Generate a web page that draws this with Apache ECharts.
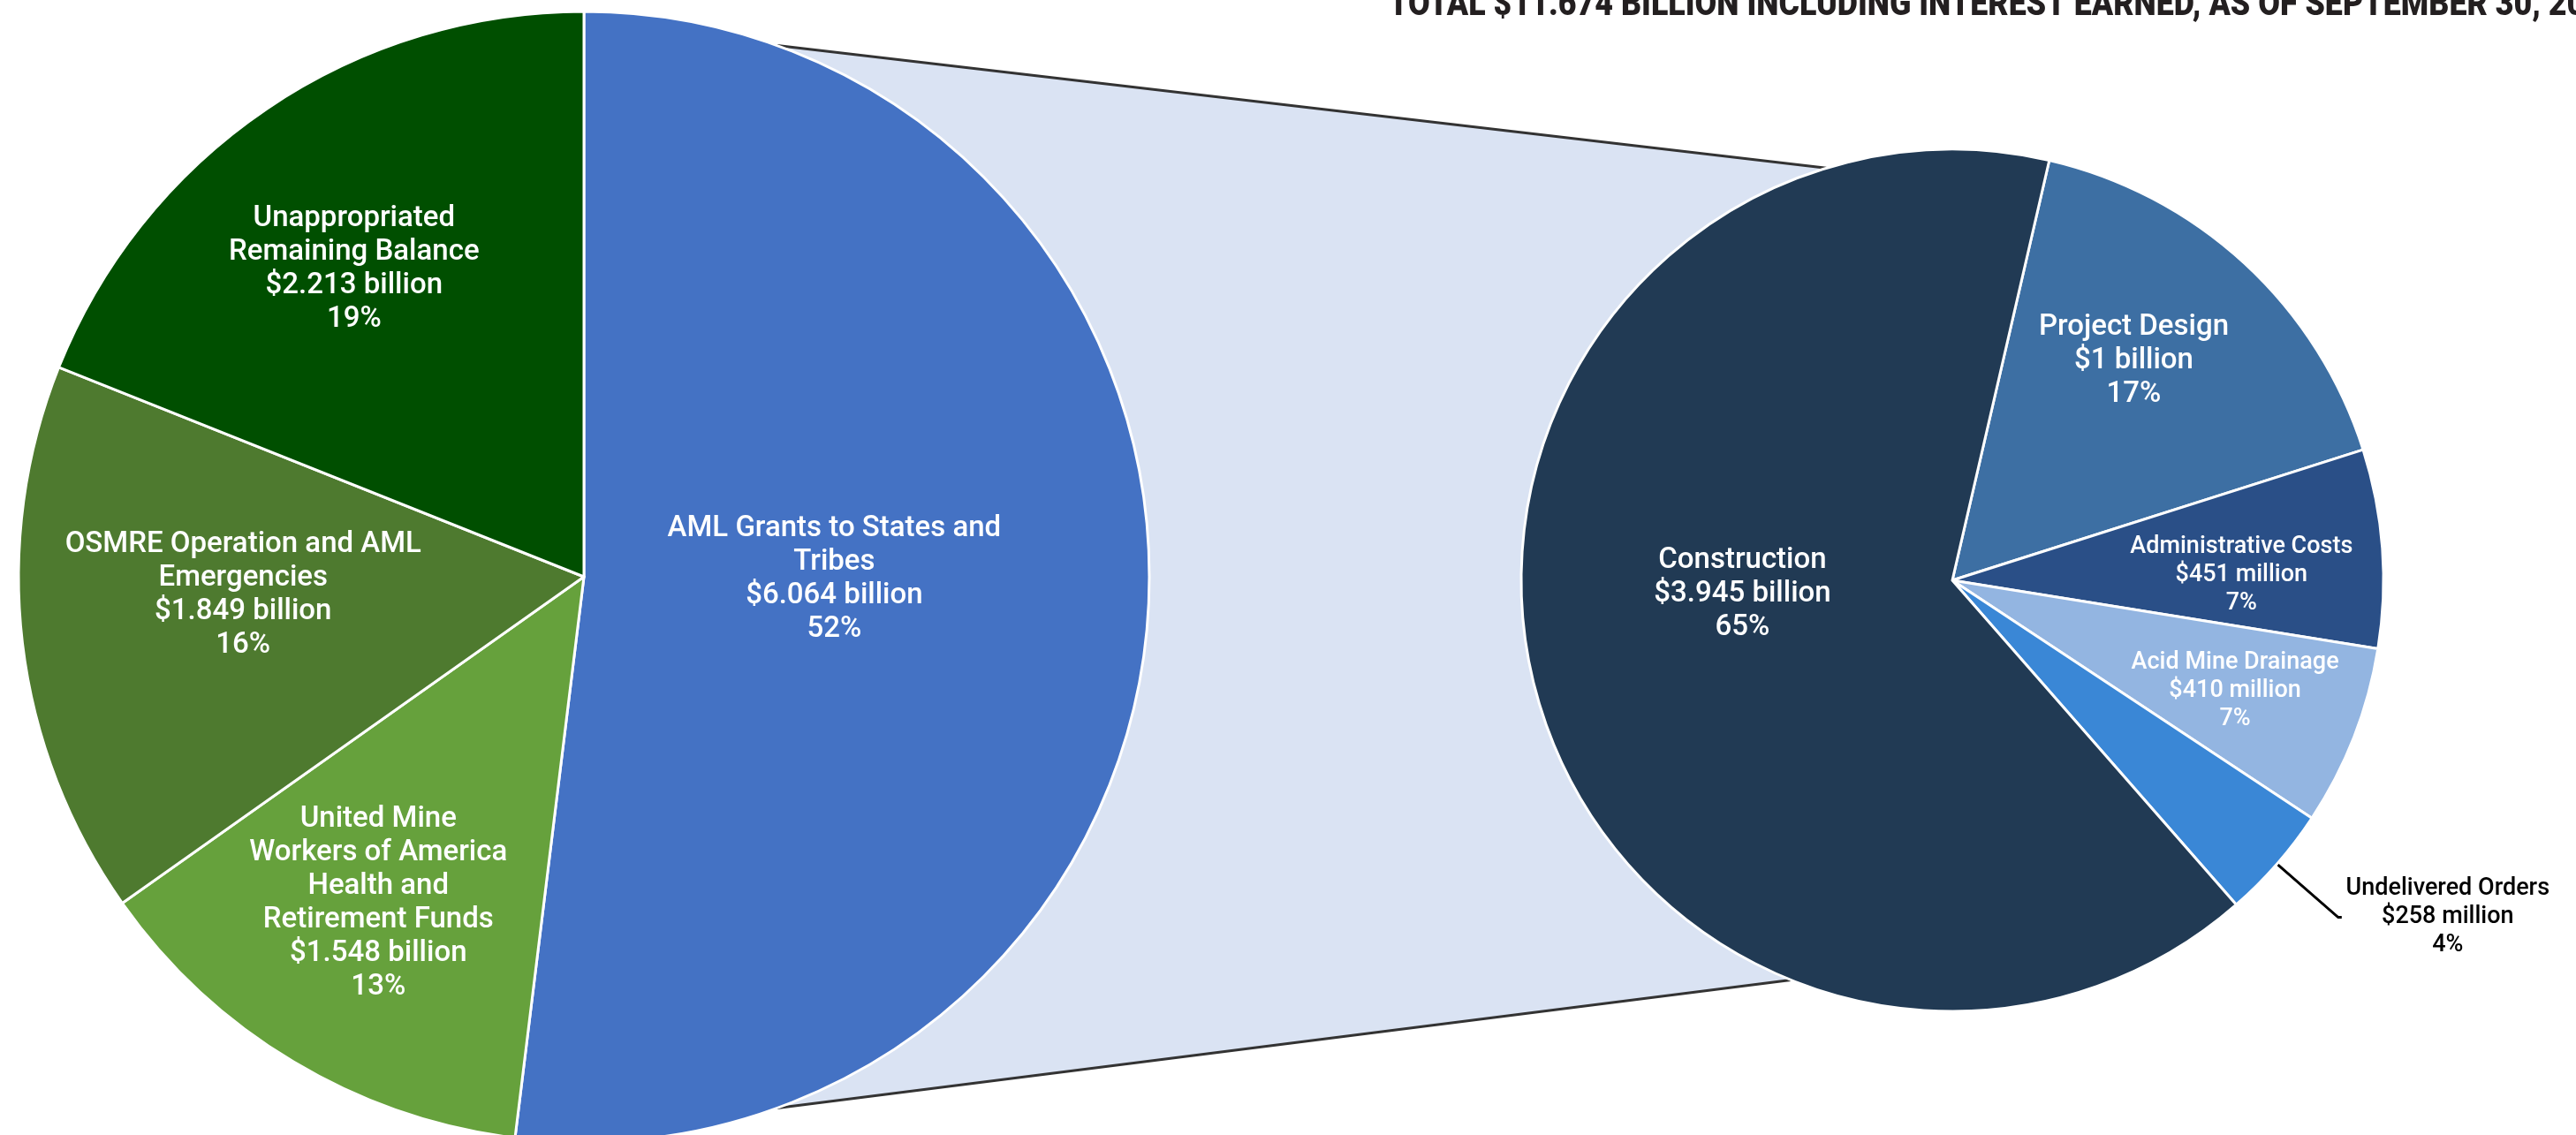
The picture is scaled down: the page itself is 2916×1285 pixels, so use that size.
<!DOCTYPE html>
<html style="height: 100%">
    <head>
        <meta charset="utf-8">
        <script type="text/javascript" src="https://cdn.jsdelivr.net/npm/echarts@6/dist/echarts.min.js"></script>
    </head>
    <body style="height: 100%; margin: 0; background-color: #ffffff">
        <div id="container" style="width: 2916px; height: 1285px"></div>
        <script type="text/javascript">
        // left pie: whole fund ($ billion)
        var fundNames = ['AML Grants to States and\nTribes', 'United Mine\nWorkers of America\nHealth and\nRetirement Funds', 'OSMRE Operation and AML\nEmergencies', 'Unappropriated\nRemaining Balance'];
        var fundValues = [6.064, 1.548, 1.849, 2.213];
        var fundPct = ['52%', '13%', '16%', '19%'];
        var fundColors = ['#4472c4', '#66a13c', '#4e7a2f', '#004f00'];

        // right pie: breakdown of the AML grants ($ billion)
        var grantNames = ['Project Design', 'Administrative Costs', 'Acid Mine Drainage', 'Undelivered Orders', 'Construction'];
        var grantValues = [1.0, 0.451, 0.410, 0.258, 3.945];
        var grantPct = ['17%', '7%', '7%', '4%', '65%'];
        var grantColors = ['#3d6fa3', '#2a4f87', '#93b5e1', '#3a87d6', '#213a54'];

        var titleText = 'TOTAL $11.674 BILLION INCLUDING INTEREST EARNED, AS OF SEPTEMBER 30, 2024';

        var leftPie = {cx: 661, cy: 653, r: 640};
        var rightPie = {cx: 2210, cy: 657, r: 488};

        function money(v) {
            if (v >= 1) return '$' + v + ' billion';
            return '$' + Math.round(v * 1000) + ' million';
        }
        // point on a pie edge, angle in degrees clockwise from 12 o'clock
        function edgePoint(p, deg) {
            var a = deg * Math.PI / 180;
            return [p.cx + p.r * Math.sin(a), p.cy - p.r * Math.cos(a)];
        }

        var L1 = edgePoint(leftPie, 20), L2 = edgePoint(leftPie, 160);
        var R1 = edgePoint(rightPie, 343), R2 = edgePoint(rightPie, 202);

        // squeeze the title so it runs off the right edge like the original
        var titleFont = '900 40px Roboto';
        var ctx = document.createElement('canvas').getContext('2d');
        ctx.font = titleFont;
        var tw = ctx.measureText('TOTAL $11.674 BILLION INCLUDING INTEREST EARNED, AS OF SEPTEMBER 30, 2').width + ctx.measureText('0').width / 2;
        var titleScale = (2916 - 1572) / tw;

        // label nudges from the default mid-radius spot
        var fundOffsets = [[-39, -17], [-67, 93], [-65, -17], [-79, -81]];
        var grantOffsets = [[38, -67], [81, 13], [90, 35], [0, 0], [2, -44]];

        var fundData = fundNames.map(function (n, i) {
            return {name: n, value: fundValues[i], itemStyle: {color: fundColors[i]}};
        });
        var grantData = grantNames.map(function (n, i) {
            var d = {name: n, value: grantValues[i], itemStyle: {color: grantColors[i]}};
            if (i === 1 || i === 2) {
                // the two narrow middle slices use a smaller label
                d.label = {fontSize: 27, lineHeight: 32};
            }
            if (n === 'Undelivered Orders') {
                d.label = {
                    position: 'outside',
                    distanceToLabelLine: 4,
                    formatter: function (p) {
                        return [p.name, money(p.value), grantPct[p.dataIndex]].map(function (s) {
                            return '{c|' + s + '}';
                        }).join('\n');
                    },
                    rich: {
                        c: {width: 232, align: 'center', color: '#000', fontSize: 27, lineHeight: 32, fontFamily: 'Roboto', fontWeight: 500}
                    }
                };
                d.labelLine = {show: true, length: 92, length2: 4, lineStyle: {color: '#000', width: 3}};
            }
            return d;
        });

        var labelBase = {
            position: 'inside',
            color: '#fff',
            fontFamily: 'Roboto',
            fontWeight: 500,
            fontSize: 33,
            lineHeight: 38
        };

        var chart = echarts.init(document.getElementById('container'));
        var option = {
            animation: false,
            graphic: [
                {
                    type: 'polygon',
                    z: 0,
                    shape: {points: [L1, R1, R2, L2]},
                    style: {fill: '#dae3f3'}
                },
                {
                    type: 'line',
                    z: 1,
                    shape: {x1: L1[0], y1: L1[1], x2: R1[0], y2: R1[1]},
                    style: {stroke: '#333', lineWidth: 3}
                },
                {
                    type: 'line',
                    z: 1,
                    shape: {x1: L2[0], y1: L2[1], x2: R2[0], y2: R2[1]},
                    style: {stroke: '#333', lineWidth: 3}
                },
                {
                    type: 'text',
                    x: 1572,
                    y: 7,
                    scaleX: titleScale,
                    style: {
                        text: titleText,
                        font: titleFont,
                        fill: '#231f20',
                        textAlign: 'left',
                        textVerticalAlign: 'middle'
                    }
                }
            ],
            series: [
                {
                    type: 'pie',
                    center: [leftPie.cx, leftPie.cy],
                    radius: leftPie.r,
                    startAngle: 90,
                    clockwise: true,
                    avoidLabelOverlap: false,
                    itemStyle: {borderColor: '#fff', borderWidth: 3},
                    label: Object.assign({}, labelBase, {
                        formatter: function (p) {
                            return p.name + '\n' + money(p.value) + '\n' + fundPct[p.dataIndex];
                        }
                    }),
                    labelLine: {show: false},
                    labelLayout: function (p) {
                        var o = fundOffsets[p.dataIndex];
                        return {dx: o[0], dy: o[1]};
                    },
                    emphasis: {disabled: true},
                    data: fundData
                },
                {
                    type: 'pie',
                    center: [rightPie.cx, rightPie.cy],
                    radius: rightPie.r,
                    startAngle: 77,
                    clockwise: true,
                    avoidLabelOverlap: false,
                    itemStyle: {borderColor: '#fff', borderWidth: 3},
                    label: Object.assign({}, labelBase, {
                        formatter: function (p) {
                            return p.name + '\n' + money(p.value) + '\n' + grantPct[p.dataIndex];
                        }
                    }),
                    labelLine: {show: false},
                    labelLayout: function (p) {
                        var o = grantOffsets[p.dataIndex];
                        return {dx: o[0], dy: o[1]};
                    },
                    emphasis: {disabled: true},
                    data: grantData
                }
            ]
        };
        chart.setOption(option);
        </script>
    </body>
</html>
